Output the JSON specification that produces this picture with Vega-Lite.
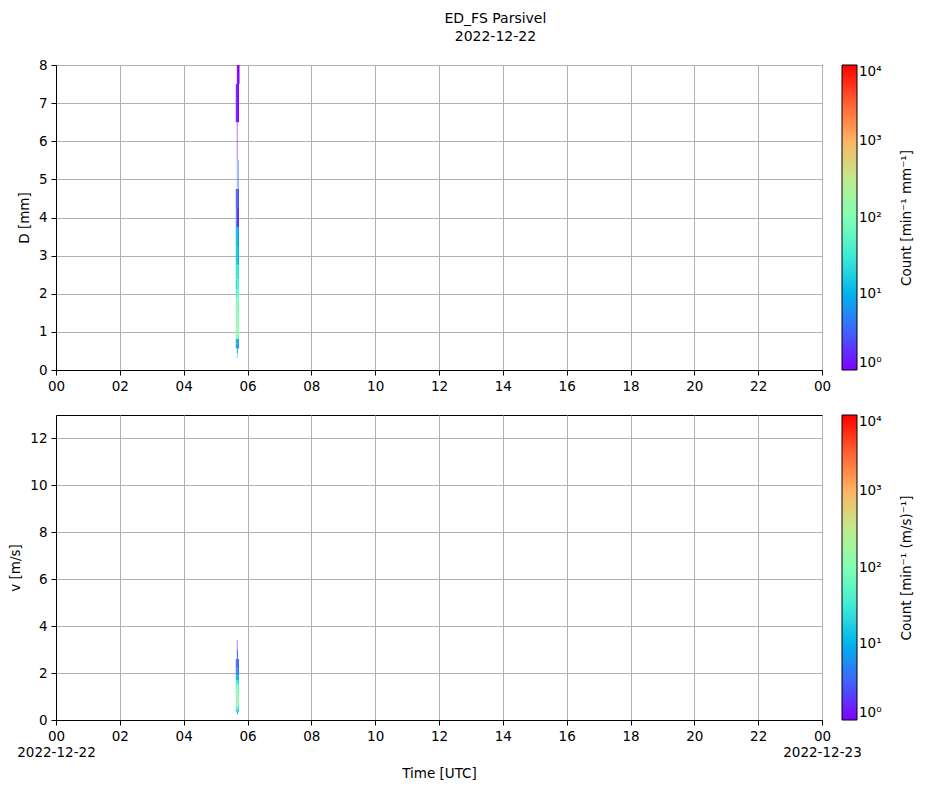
{
  "$schema": "https://vega.github.io/schema/vega-lite/v6.json",
  "padding": {"left": 8, "right": 5, "top": 11, "bottom": 5},
  "title": {
    "text": ["ED_FS Parsivel", "2022-12-22"],
    "anchor": "middle",
    "fontSize": 14,
    "fontWeight": "normal",
    "font": "DejaVu Sans",
    "lineHeight": 18,
    "offset": 14,
    "dx": 34
  },
  "datasets": {
    "dsd": [
      {"t0": 340, "t1": 342, "lo": 7.5, "hi": 8.5, "n": 1},
      {"t0": 342, "t1": 344, "lo": 7.5, "hi": 8.5, "n": 1},
      {"t0": 344, "t1": 345, "lo": 7.5, "hi": 8.5, "n": 1},
      {"t0": 338, "t1": 340, "lo": 6.5, "hi": 7.5, "n": 1},
      {"t0": 340, "t1": 342, "lo": 6.5, "hi": 7.5, "n": 1.2},
      {"t0": 342, "t1": 344, "lo": 6.5, "hi": 7.5, "n": 1},
      {"t0": 340, "t1": 341, "lo": 5.5, "hi": 6.5, "n": 1},
      {"t0": 340, "t1": 341, "lo": 4.75, "hi": 5.5, "n": 3},
      {"t0": 343, "t1": 344, "lo": 4.75, "hi": 5.5, "n": 4},
      {"t0": 338, "t1": 340, "lo": 4.25, "hi": 4.75, "n": 3},
      {"t0": 340, "t1": 342, "lo": 4.25, "hi": 4.75, "n": 3},
      {"t0": 342, "t1": 344, "lo": 4.25, "hi": 4.75, "n": 2.5},
      {"t0": 338, "t1": 340, "lo": 3.75, "hi": 4.25, "n": 8},
      {"t0": 340, "t1": 342, "lo": 3.75, "hi": 4.25, "n": 1.5},
      {"t0": 342, "t1": 344, "lo": 3.75, "hi": 4.25, "n": 1.5},
      {"t0": 338, "t1": 340, "lo": 3.25, "hi": 3.75, "n": 10},
      {"t0": 340, "t1": 342, "lo": 3.25, "hi": 3.75, "n": 12},
      {"t0": 342, "t1": 344, "lo": 3.25, "hi": 3.75, "n": 6},
      {"t0": 338, "t1": 340, "lo": 2.75, "hi": 3.25, "n": 12},
      {"t0": 340, "t1": 342, "lo": 2.75, "hi": 3.25, "n": 15},
      {"t0": 342, "t1": 344, "lo": 2.75, "hi": 3.25, "n": 10},
      {"t0": 338, "t1": 340, "lo": 2.375, "hi": 2.75, "n": 20},
      {"t0": 340, "t1": 342, "lo": 2.375, "hi": 2.75, "n": 30},
      {"t0": 342, "t1": 344, "lo": 2.375, "hi": 2.75, "n": 25},
      {"t0": 338, "t1": 340, "lo": 2.125, "hi": 2.375, "n": 15},
      {"t0": 340, "t1": 342, "lo": 2.125, "hi": 2.375, "n": 60},
      {"t0": 342, "t1": 344, "lo": 2.125, "hi": 2.375, "n": 40},
      {"t0": 338, "t1": 340, "lo": 1.875, "hi": 2.125, "n": 30},
      {"t0": 340, "t1": 342, "lo": 1.875, "hi": 2.125, "n": 80},
      {"t0": 342, "t1": 344, "lo": 1.875, "hi": 2.125, "n": 60},
      {"t0": 338, "t1": 340, "lo": 1.625, "hi": 1.875, "n": 100},
      {"t0": 340, "t1": 342, "lo": 1.625, "hi": 1.875, "n": 120},
      {"t0": 342, "t1": 344, "lo": 1.625, "hi": 1.875, "n": 90},
      {"t0": 338, "t1": 340, "lo": 1.375, "hi": 1.625, "n": 120},
      {"t0": 340, "t1": 342, "lo": 1.375, "hi": 1.625, "n": 150},
      {"t0": 342, "t1": 344, "lo": 1.375, "hi": 1.625, "n": 100},
      {"t0": 338, "t1": 340, "lo": 1.187, "hi": 1.375, "n": 100},
      {"t0": 340, "t1": 342, "lo": 1.187, "hi": 1.375, "n": 150},
      {"t0": 342, "t1": 344, "lo": 1.187, "hi": 1.375, "n": 120},
      {"t0": 338, "t1": 340, "lo": 1.062, "hi": 1.187, "n": 120},
      {"t0": 340, "t1": 342, "lo": 1.062, "hi": 1.187, "n": 180},
      {"t0": 342, "t1": 344, "lo": 1.062, "hi": 1.187, "n": 100},
      {"t0": 338, "t1": 340, "lo": 0.937, "hi": 1.062, "n": 150},
      {"t0": 340, "t1": 342, "lo": 0.937, "hi": 1.062, "n": 220},
      {"t0": 342, "t1": 344, "lo": 0.937, "hi": 1.062, "n": 120},
      {"t0": 338, "t1": 340, "lo": 0.812, "hi": 0.937, "n": 100},
      {"t0": 340, "t1": 342, "lo": 0.812, "hi": 0.937, "n": 150},
      {"t0": 342, "t1": 344, "lo": 0.812, "hi": 0.937, "n": 80},
      {"t0": 338, "t1": 340, "lo": 0.687, "hi": 0.812, "n": 8},
      {"t0": 340, "t1": 342, "lo": 0.687, "hi": 0.812, "n": 10},
      {"t0": 342, "t1": 344, "lo": 0.687, "hi": 0.812, "n": 6},
      {"t0": 338, "t1": 340, "lo": 0.562, "hi": 0.687, "n": 6},
      {"t0": 340, "t1": 342, "lo": 0.562, "hi": 0.687, "n": 8},
      {"t0": 342, "t1": 344, "lo": 0.562, "hi": 0.687, "n": 5},
      {"t0": 340, "t1": 342, "lo": 0.437, "hi": 0.562, "n": 10},
      {"t0": 340, "t1": 341, "lo": 0.312, "hi": 0.437, "n": 12}
    ],
    "vel": [
      {"t0": 340, "t1": 341, "lo": 3.0, "hi": 3.4, "n": 1},
      {"t0": 340, "t1": 342, "lo": 2.6, "hi": 3.0, "n": 3},
      {"t0": 338, "t1": 340, "lo": 2.2, "hi": 2.6, "n": 3},
      {"t0": 340, "t1": 342, "lo": 2.2, "hi": 2.6, "n": 4},
      {"t0": 342, "t1": 344, "lo": 2.2, "hi": 2.6, "n": 3},
      {"t0": 338, "t1": 340, "lo": 1.9, "hi": 2.2, "n": 5},
      {"t0": 340, "t1": 342, "lo": 1.9, "hi": 2.2, "n": 6},
      {"t0": 342, "t1": 344, "lo": 1.9, "hi": 2.2, "n": 4},
      {"t0": 338, "t1": 340, "lo": 1.7, "hi": 1.9, "n": 10},
      {"t0": 340, "t1": 342, "lo": 1.7, "hi": 1.9, "n": 12},
      {"t0": 342, "t1": 344, "lo": 1.7, "hi": 1.9, "n": 8},
      {"t0": 338, "t1": 340, "lo": 1.5, "hi": 1.7, "n": 25},
      {"t0": 340, "t1": 342, "lo": 1.5, "hi": 1.7, "n": 40},
      {"t0": 342, "t1": 344, "lo": 1.5, "hi": 1.7, "n": 20},
      {"t0": 338, "t1": 340, "lo": 1.3, "hi": 1.5, "n": 60},
      {"t0": 340, "t1": 342, "lo": 1.3, "hi": 1.5, "n": 100},
      {"t0": 342, "t1": 344, "lo": 1.3, "hi": 1.5, "n": 50},
      {"t0": 338, "t1": 340, "lo": 1.1, "hi": 1.3, "n": 100},
      {"t0": 340, "t1": 342, "lo": 1.1, "hi": 1.3, "n": 150},
      {"t0": 342, "t1": 344, "lo": 1.1, "hi": 1.3, "n": 80},
      {"t0": 338, "t1": 340, "lo": 0.95, "hi": 1.1, "n": 120},
      {"t0": 340, "t1": 342, "lo": 0.95, "hi": 1.1, "n": 180},
      {"t0": 342, "t1": 344, "lo": 0.95, "hi": 1.1, "n": 100},
      {"t0": 338, "t1": 340, "lo": 0.85, "hi": 0.95, "n": 150},
      {"t0": 340, "t1": 342, "lo": 0.85, "hi": 0.95, "n": 200},
      {"t0": 342, "t1": 344, "lo": 0.85, "hi": 0.95, "n": 100},
      {"t0": 338, "t1": 340, "lo": 0.75, "hi": 0.85, "n": 150},
      {"t0": 340, "t1": 342, "lo": 0.75, "hi": 0.85, "n": 220},
      {"t0": 342, "t1": 344, "lo": 0.75, "hi": 0.85, "n": 120},
      {"t0": 338, "t1": 340, "lo": 0.65, "hi": 0.75, "n": 120},
      {"t0": 340, "t1": 342, "lo": 0.65, "hi": 0.75, "n": 180},
      {"t0": 342, "t1": 344, "lo": 0.65, "hi": 0.75, "n": 100},
      {"t0": 338, "t1": 340, "lo": 0.55, "hi": 0.65, "n": 80},
      {"t0": 340, "t1": 342, "lo": 0.55, "hi": 0.65, "n": 120},
      {"t0": 342, "t1": 344, "lo": 0.55, "hi": 0.65, "n": 60},
      {"t0": 338, "t1": 340, "lo": 0.45, "hi": 0.55, "n": 40},
      {"t0": 340, "t1": 342, "lo": 0.45, "hi": 0.55, "n": 60},
      {"t0": 342, "t1": 344, "lo": 0.45, "hi": 0.55, "n": 30},
      {"t0": 338, "t1": 340, "lo": 0.35, "hi": 0.45, "n": 15},
      {"t0": 340, "t1": 342, "lo": 0.35, "hi": 0.45, "n": 25},
      {"t0": 342, "t1": 344, "lo": 0.35, "hi": 0.45, "n": 10},
      {"t0": 340, "t1": 342, "lo": 0.25, "hi": 0.35, "n": 10}
    ]
  },
  "vconcat": [
    {
      "width": 766,
      "height": 305,
      "data": {"name": "dsd"},
      "mark": {"type": "rect", "clip": true},
      "encoding": {
        "x": {
          "field": "t0",
          "type": "quantitative",
          "scale": {"domain": [0, 1440], "nice": false, "zero": false},
          "axis": {
            "title": null,
            "values": [0, 120, 240, 360, 480, 600, 720, 840, 960, 1080, 1200, 1320, 1440],
            "labelExpr": "format((datum.value / 60) % 24, '02d')"
          }
        },
        "x2": {"field": "t1"},
        "y": {
          "field": "lo",
          "type": "quantitative",
          "scale": {"domain": [0, 8], "nice": false},
          "axis": {"title": "D [mm]", "values": [0, 1, 2, 3, 4, 5, 6, 7, 8]}
        },
        "y2": {"field": "hi"},
        "color": {
          "field": "n",
          "type": "quantitative",
          "scale": {
            "type": "log",
            "domain": [1, 3.1623, 10, 31.623, 100, 316.23, 1000, 3162.3, 10000],
            "range": ["#8000ff", "#4062fa", "#00b4ec", "#40ecd4", "#80ffb4", "#bfec8e", "#ffb462", "#ff6232", "#ff0000"],
            "interpolate": "rgb"
          },
          "legend": {
            "title": "Count [min⁻¹ mm⁻¹]",
            "orient": "none",
            "legendX": 786,
            "legendY": 0,
            "values": [1, 10, 100, 1000, 10000],
            "labelExpr": "'10' + ['⁰', '¹', '²', '³', '⁴'][round(log(datum.value) / LN10)]",
            "encode": {"title": {"update": {"angle": {"value": 270}, "baseline": {"value": "bottom"}}}}
          }
        }
      }
    },
    {
      "width": 766,
      "height": 305,
      "data": {"name": "vel"},
      "mark": {"type": "rect", "clip": true},
      "encoding": {
        "x": {
          "field": "t0",
          "type": "quantitative",
          "scale": {"domain": [0, 1440], "nice": false, "zero": false},
          "axis": {
            "title": "Time [UTC]",
            "values": [0, 120, 240, 360, 480, 600, 720, 840, 960, 1080, 1200, 1320, 1440],
            "labelExpr": "datum.value == 0 ? ['00', '2022-12-22'] : datum.value == 1440 ? ['00', '2022-12-23'] : format(datum.value / 60, '02d')",
            "labelLineHeight": 16,
            "titlePadding": 8
          }
        },
        "x2": {"field": "t1"},
        "y": {
          "field": "lo",
          "type": "quantitative",
          "scale": {"domain": [0, 13], "nice": false},
          "axis": {"title": "v [m/s]", "values": [0, 2, 4, 6, 8, 10, 12]}
        },
        "y2": {"field": "hi"},
        "color": {
          "field": "n",
          "type": "quantitative",
          "scale": {
            "type": "log",
            "domain": [1, 3.1623, 10, 31.623, 100, 316.23, 1000, 3162.3, 10000],
            "range": ["#8000ff", "#4062fa", "#00b4ec", "#40ecd4", "#80ffb4", "#bfec8e", "#ffb462", "#ff6232", "#ff0000"],
            "interpolate": "rgb"
          },
          "legend": {
            "title": "Count [min⁻¹ (m/s)⁻¹]",
            "orient": "none",
            "legendX": 786,
            "legendY": 0,
            "values": [1, 10, 100, 1000, 10000],
            "labelExpr": "'10' + ['⁰', '¹', '²', '³', '⁴'][round(log(datum.value) / LN10)]",
            "encode": {"title": {"update": {"angle": {"value": 270}, "baseline": {"value": "bottom"}}}}
          }
        }
      }
    }
  ],
  "spacing": 21,
  "resolve": {"scale": {"color": "independent"}, "legend": {"color": "independent"}},
  "config": {
    "font": "DejaVu Sans",
    "view": {"stroke": "black", "strokeWidth": 1},
    "axis": {
      "domainColor": "black",
      "tickColor": "black",
      "tickSize": 5,
      "labelFontSize": 13.5,
      "labelColor": "black",
      "labelPadding": 4,
      "labelFlush": false,
      "labelOverlap": false,
      "titleFontSize": 13.5,
      "titleFontWeight": "normal",
      "titleColor": "black",
      "titlePadding": 7,
      "gridColor": "#b0b0b0",
      "gridWidth": 1,
      "gridOpacity": 1
    },
    "legend": {
      "direction": "vertical",
      "gradientLength": 305,
      "gradientThickness": 15,
      "gradientStrokeColor": "black",
      "gradientStrokeWidth": 1,
      "labelFontSize": 13.5,
      "labelColor": "black",
      "labelOffset": 9,
      "labelBaseline": "middle",
      "labelOverlap": false,
      "titleFontSize": 13.5,
      "titleFontWeight": "normal",
      "titleColor": "black",
      "titleOrient": "right",
      "titleAnchor": "middle",
      "titlePadding": 32
    }
  }
}
